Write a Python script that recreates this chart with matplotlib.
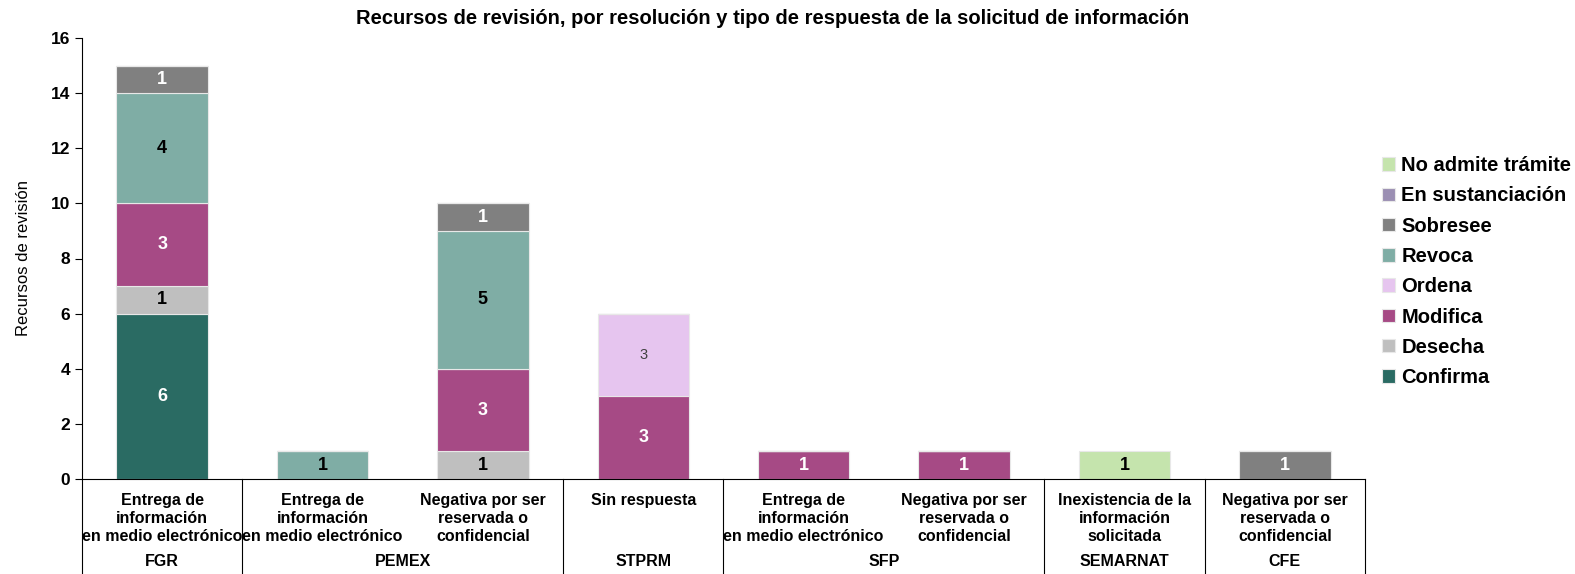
import numpy as np
import matplotlib.pyplot as plt
from matplotlib import font_manager
import matplotlib.transforms as mtransforms

names = {f.name for f in font_manager.fontManager.ttflist}
narrow = 'Liberation Sans Narrow' if 'Liberation Sans Narrow' in names else 'Liberation Sans'
plt.rcParams['font.family'] = [narrow, 'DejaVu Sans']

# data
categories = [
    "Entrega de\ninformación\nen medio electrónico",
    "Entrega de\ninformación\nen medio electrónico",
    "Negativa por ser\nreservada o\nconfidencial",
    "Sin respuesta",
    "Entrega de\ninformación\nen medio electrónico",
    "Negativa por ser\nreservada o\nconfidencial",
    "Inexistencia de la\ninformación\nsolicitada",
    "Negativa por ser\nreservada o\nconfidencial",
]
groups = ["FGR", "PEMEX", "STPRM", "SFP", "SEMARNAT", "CFE"]
group_sizes = [1, 2, 1, 2, 1, 1]

confirma = [6, 0, 0, 0, 0, 0, 0, 0]
desecha = [1, 0, 1, 0, 0, 0, 0, 0]
modifica = [3, 0, 3, 3, 1, 1, 0, 0]
ordena = [0, 0, 0, 3, 0, 0, 0, 0]
revoca = [4, 1, 5, 0, 0, 0, 0, 0]
sobresee = [1, 0, 1, 0, 0, 0, 0, 1]
en_sustanciacion = [0, 0, 0, 0, 0, 0, 0, 0]
no_admite = [0, 0, 0, 0, 0, 0, 1, 0]

series = [
    ("Confirma", confirma, "#2a6b63", "white"),
    ("Desecha", desecha, "#bfbfbf", "black"),
    ("Modifica", modifica, "#a64a85", "white"),
    ("Ordena", ordena, "#e6c5ef", "#404040"),
    ("Revoca", revoca, "#7fada5", "black"),
    ("Sobresee", sobresee, "#808080", "white"),
    ("En sustanciación", en_sustanciacion, "#9b8fb3", "white"),
    ("No admite trámite", no_admite, "#c5e4ad", "black"),
]

fig = plt.figure(figsize=(15.75, 5.74), dpi=100)
ax = fig.add_axes([82 / 1575, 1 - 479 / 574, (1365 - 82) / 1575, (479 - 38) / 574])

x = np.arange(len(categories))
bottom = np.zeros(len(categories))
handles = []
for name, vals, color, tcolor in series:
    vals = np.array(vals, dtype=float)
    bars = ax.bar(x, vals, 0.57, bottom=bottom, color=color,
                  edgecolor='#e8e8e8', linewidth=0.8, label=name)
    handles.append(bars)
    for xi, v, b in zip(x, vals, bottom):
        if v > 0:
            if name == "Ordena":
                ax.text(xi, b + v / 2, f"{int(v)}", ha='center', va='center',
                        fontsize=10.5, color=tcolor,
                        family=['Liberation Sans', 'DejaVu Sans'])
            else:
                ax.text(xi, b + v / 2, f"{int(v)}", ha='center', va='center',
                        fontsize=13, fontweight='bold', color=tcolor,
                        family=['Liberation Sans', 'DejaVu Sans'])
    bottom += vals

ax.set_xlim(-0.5, len(categories) - 0.5)
ax.set_ylim(0, 16)
ax.set_yticks(range(0, 17, 2))
ax.tick_params(axis='y', labelsize=12.5, length=5, width=0.8)
for lbl in ax.get_yticklabels():
    lbl.set_fontweight('bold')
ax.set_xticks(x)
ax.set_xticklabels(categories, fontsize=11.5, fontweight='bold', linespacing=1.25)
ax.tick_params(axis='x', length=0, pad=10)
ax.spines['top'].set_visible(False)
ax.spines['right'].set_visible(False)
ax.spines['left'].set_linewidth(0.8)
ax.spines['bottom'].set_linewidth(0.8)
ax.set_ylabel("Recursos de revisión", fontsize=12,
              family=['Liberation Sans', 'DejaVu Sans'], labelpad=14)

# group labels and dividers
trans = mtransforms.blended_transform_factory(ax.transData, ax.transAxes)
edges = np.concatenate([[0], np.cumsum(group_sizes)]) - 0.5
for i, g in enumerate(groups):
    center = (edges[i] + edges[i + 1]) / 2
    ax.text(center, -0.187, g, transform=trans, ha='center', va='center',
            fontsize=11.5, fontweight='bold')
for e in edges:
    ax.plot([e, e], [0, -0.22], transform=trans, color='black',
            linewidth=0.8, clip_on=False)

fig.text(773 / 1575, 1 - 19 / 574,
         "Recursos de revisión, por resolución y tipo de respuesta de la solicitud de información",
         ha='center', va='center', fontsize=14.5, fontweight='bold')

fig.legend(handles[::-1], [s[0] for s in series][::-1],
           loc='upper left', bbox_to_anchor=(1364 / 1575, 1 - 138 / 574),
           frameon=False, handlelength=0.65, handleheight=0.65,
           handletextpad=0.3, labelspacing=0.56,
           prop={'family': ['Liberation Sans', 'DejaVu Sans'],
                 'weight': 'bold', 'size': 14.5})

fig.savefig("out.png", dpi=100)
